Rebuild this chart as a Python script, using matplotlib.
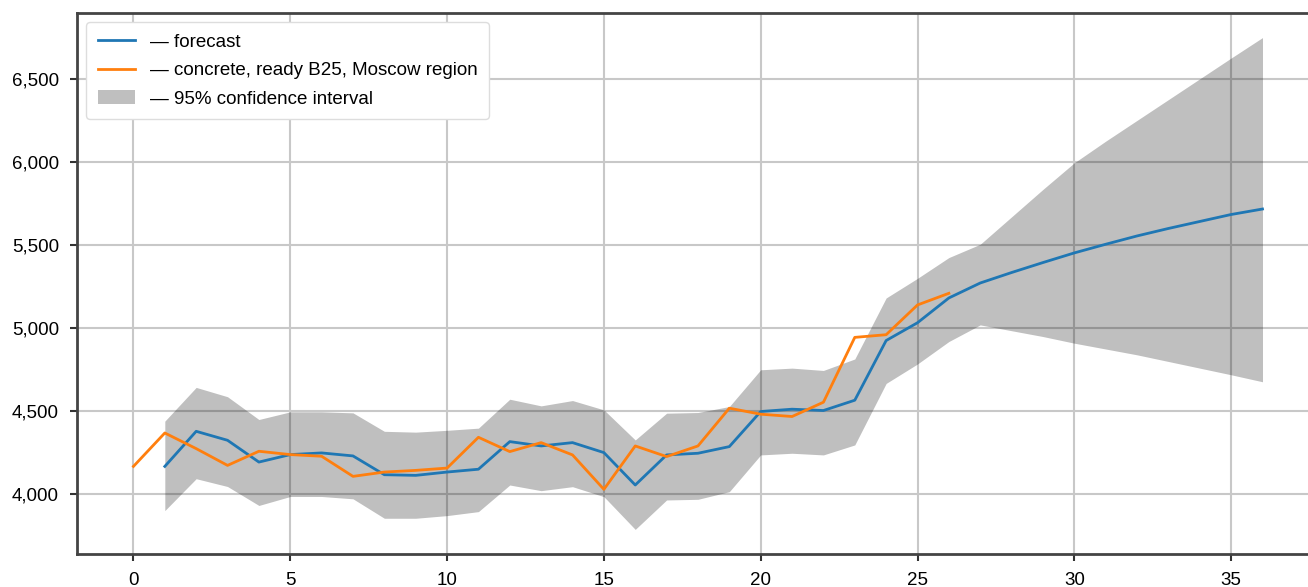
import matplotlib
matplotlib.use("Agg")
import matplotlib.pyplot as plt
from matplotlib.ticker import StrMethodFormatter

plt.rcParams["font.family"] = ["Liberation Sans", "DejaVu Sans"]

# forecast (steps 1..36) with 95% confidence interval
forecast_x = list(range(1, 37))
forecast = [4169, 4380, 4326, 4195, 4240, 4250, 4232, 4119, 4115, 4135,
            4152, 4318, 4292, 4312, 4252, 4057, 4238, 4248, 4288, 4499,
            4513, 4505, 4567, 4926, 5033, 5182, 5272, 5335, 5395, 5453,
            5505, 5555, 5600, 5642, 5684, 5717]
ci_upper = [4441, 4644, 4588, 4451, 4497, 4497, 4491, 4380, 4375, 4386,
            4399, 4573, 4533, 4565, 4509, 4328, 4489, 4493, 4529, 4750,
            4760, 4746, 4815, 5182, 5300, 5425, 5505, 5670, 5835, 5995,
            6125, 6250, 6375, 6500, 6625, 6748]
ci_lower = [3903, 4095, 4048, 3934, 3988, 3988, 3974, 3857, 3857, 3873,
            3897, 4057, 4023, 4047, 3987, 3790, 3967, 3971, 4017, 4238,
            4248, 4238, 4298, 4668, 4785, 4920, 5020, 4985, 4950, 4910,
            4875, 4840, 4800, 4760, 4720, 4678]

# actual prices (steps 0..26)
actual_x = list(range(0, 27))
actual = [4169, 4370, 4276, 4175, 4260, 4240, 4230, 4109, 4135, 4145,
          4159, 4344, 4258, 4312, 4238, 4031, 4292, 4228, 4292, 4519,
          4483, 4469, 4555, 4945, 4961, 5140, 5210]

fig = plt.figure(figsize=(13.08, 5.87), dpi=100)
ax = fig.add_axes([77 / 1308, 33 / 587, 0.9495, 541 / 587])

ax.plot(forecast_x, forecast, color="#1f77b4", lw=2, label="— forecast", zorder=3)
ax.plot(actual_x, actual, color="#ff7f0e", lw=2,
        label="— concrete, ready B25, Moscow region", zorder=3)
ax.fill_between(forecast_x, ci_lower, ci_upper, color="k", alpha=0.25,
                lw=0, label="— 95% confidence interval", zorder=2)

ax.grid(True, color="#c8c8c8", lw=1.5, zorder=0)
ax.set_axisbelow(True)
ax.yaxis.set_major_formatter(StrMethodFormatter("{x:,.0f}"))
ax.set_yticks([4000, 4500, 5000, 5500, 6000, 6500])
ax.set_xticks([0, 5, 10, 15, 20, 25, 30, 35])
ax.tick_params(labelsize=13.5, length=5, width=1.5, color="#333333", pad=8)

for side in ["left", "bottom", "top"]:
    ax.spines[side].set_color("#444444")
    ax.spines[side].set_linewidth(2)
ax.spines["right"].set_visible(False)

ax.legend(loc="upper left", fontsize=13.5, framealpha=1, edgecolor="#dddddd",
          handlelength=2.0, borderpad=0.6, labelspacing=0.6)

fig.savefig("out.png", dpi=100)
